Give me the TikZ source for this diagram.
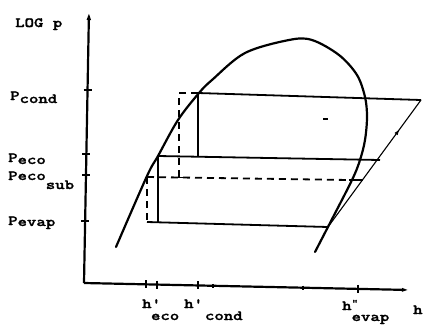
\documentclass[tikz,border=0pt]{standalone}
\usepackage{fontspec}
\newfontfamily\twfont{lmmonolt10-bold.otf}[FakeStretch=1.28,FakeBold=1.6]
\usetikzlibrary{arrows.meta,decorations.markings}
\begin{document}
\begin{tikzpicture}[x=1pt,y=-1pt,
  lbl/.style={font=\twfont\fontsize{14}{14}\selectfont, inner sep=0pt, anchor=base west},
  axisline/.style={line width=2.2pt},
  domeline/.style={line width=2.2pt, line cap=round},
  cycline/.style={line width=1.8pt},
  thinline/.style={line width=1.1pt},
  dashline/.style={line width=1.8pt, dash pattern=on 7pt off 5pt},
  tickline/.style={line width=1.2pt}]
\useasboundingbox (0,0) rectangle (423,327);

% axes
\coordinate (O) at (84,283);
\coordinate (Ytop) at (89,10);
\coordinate (Xend) at (410,290);
\draw[axisline,-{Latex[length=10pt,width=4.5pt]}] (O) -- (Ytop);
\draw[axisline,-{Latex[length=8pt,width=4pt]}] (O) -- (Xend);

% y ticks
\foreach \yy/\xx in {90/87.5,154/86.4,175/86,221/85.1}
  \draw[tickline] (\xx-4,\yy) -- (\xx+4,\yy);
% x ticks
\foreach \xx/\yy in {146/284.3,157/284.6,198/285.4,358/288.9}
  \draw[tickline] (\xx,\yy-4) -- (\xx,\yy+4);
\foreach \xx/\yy in {213/285.8,303/287.7}
  \draw[tickline] (\xx,\yy-2) -- (\xx,\yy+2);

% saturation dome
\draw[domeline] plot[smooth,tension=0.55] coordinates {
 (116,247) (147,176) (158,156) (178,120) (199,93) (212,80) (245,53) (289,40)
 (312,40) (339,55) (357,75) (365,97) (367,117) (365,140) (360,160) (352,180)
 (330,223) (315,252)};

% cycle points
\coordinate (A) at (198,93);
\coordinate (B) at (421,100);
\coordinate (C) at (198,156.7);
\coordinate (D) at (158,156);
\coordinate (E) at (380,160);
\coordinate (F) at (158,222);
\coordinate (G) at (147,222);
\coordinate (H) at (328,227);
\coordinate (I) at (179,93);
\coordinate (J) at (179,177.5);
\coordinate (K) at (147,177);
\coordinate (L) at (349,180);
\coordinate (M) at (363,180);

\draw[cycline] (B) -- (A) -- (C);
\draw[cycline] (D) -- (E);
\draw[cycline] (D) -- (F);
\draw[cycline] (G) -- (H);
\draw[thinline, postaction={decorate}, decoration={markings,
  mark=at position 0.77 with {\arrow{Latex[length=6pt,width=4pt]}}}] (H) -- (B);
\draw[dashline] (A) -- (I) -- (J);
\draw[dashline] (K) -- (L);
\draw[cycline] (L) -- (M);
\draw[dashline] (K) -- (G);
\draw[tickline] (174,177.5) -- (184,177.5);
\draw[tickline] (323,119) -- (328,119);

% labels
\node[lbl] (logp) at (15,27) {LOG p};
\node[lbl] (pc) at (10,100) {P\raisebox{-3pt}{cond}};
\node[lbl] (pe) at (8,162) {P\raisebox{-2pt}{eco}};
\node[lbl] (pes) at (8,180) {Peco\raisebox{-9pt}{sub}};
\node[lbl] (pv) at (8,225) {P\raisebox{-1pt}{evap}};
\node[lbl] (h1) at (142,308) {h'\kern-10pt\raisebox{-12pt}{eco}};
\node[lbl] (h2) at (184,308) {h'\kern2pt\raisebox{-12pt}{cond}};
\node[lbl] (h3) at (342,310) {h\raisebox{-11pt}{\rlap{\raisebox{15pt}{\fontsize{10}{10}\selectfont"}}evap}};
\node[lbl] (h4) at (413,314) {h};
\end{tikzpicture}
\end{document}
